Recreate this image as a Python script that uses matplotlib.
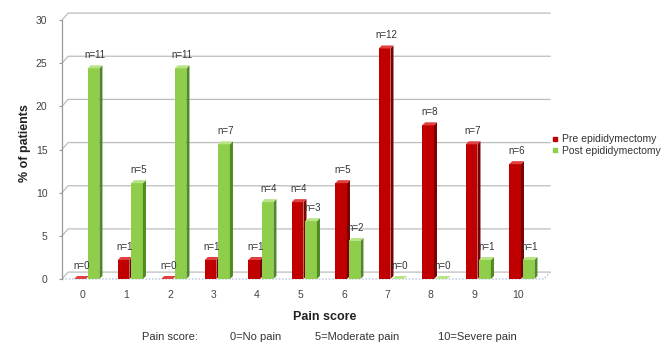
"""
Pain score distribution before / after epididymectomy, Excel-style
pseudo-3D clustered bars with n= labels over every bar.

Output: out.png (662x353)
"""
import numpy as np
import matplotlib
matplotlib.use('Agg')
import matplotlib.pyplot as plt
from matplotlib.patches import Polygon, Rectangle
from matplotlib.lines import Line2D

plt.rcParams.update({
    "font.family": ["Liberation Sans", "DejaVu Sans"],
    "font.size": 7.5,
    "xtick.labelsize": 7.5, "ytick.labelsize": 7.5,
})

# ---- data (% of patients, n per bar) ----
pain_score = list(range(11))
pre_n = [0, 1, 0, 1, 1, 4, 5, 12, 8, 7, 6]
post_n = [11, 5, 11, 7, 4, 3, 2, 0, 0, 1, 1]
pre_pct = [0.0, 2.2, 0.0, 2.2, 2.2, 8.9, 11.1, 26.7, 17.8, 15.6, 13.3]
post_pct = [24.4, 11.1, 24.4, 15.6, 8.9, 6.7, 4.4, 0.0, 0.0, 2.2, 2.2]
y_ticks = [0, 5, 10, 15, 20, 25, 30]
scale_notes = ["Pain score:", "0=No pain", "5=Moderate pain", "10=Severe pain"]

W, H = 662, 353
XMIN, XMAX = -0.48, 10.6
YMIN, YMAX = 0, 30
WALL_DX, WALL_DY = 0.14, 0.8      # back wall depth (data units)
BAR_DX, BAR_DY = 0.07, 0.35       # bar depth
BAR_W = 0.27


def px(x, y):
    return x / W, 1 - y / H


def bar3d(ax, left, h, front, side, top):
    r = left + BAR_W
    ax.add_patch(Rectangle((left, 0), BAR_W, h, facecolor=front, edgecolor="none", zorder=4))
    ax.add_patch(Polygon([(r, 0), (r + BAR_DX, BAR_DY), (r + BAR_DX, h + BAR_DY), (r, h)],
                         closed=True, facecolor=side, edgecolor="none", zorder=4))
    ax.add_patch(Polygon([(left, h), (left + BAR_DX, h + BAR_DY), (r + BAR_DX, h + BAR_DY), (r, h)],
                         closed=True, facecolor=top, edgecolor="none", zorder=4))


def main():
    fig = plt.figure(figsize=(W / 100, H / 100), dpi=100)
    ax = fig.add_axes([62 / W, 1 - 279 / H, 482 / W, 259 / H])
    ax.set_xlim(XMIN, XMAX)
    ax.set_ylim(YMIN, YMAX)

    # back wall gridlines with the little depth slant at the left
    for y in y_ticks:
        ax.plot([XMIN, XMIN + WALL_DX, XMAX + WALL_DX], [y, y + WALL_DY, y + WALL_DY],
                color="#bdbdbd", lw=0.9, zorder=1, clip_on=False)
    # floor
    ax.plot([XMIN, XMAX, XMAX + WALL_DX], [0, 0, WALL_DY],
            color="#a9bcd6", lw=0.8, ls=(0, (1.5, 1.5)), zorder=2, clip_on=False)

    series = {
        "Pre epididymectomy":  {"pct": pre_pct,  "n": pre_n,  "off": -0.2,
                                "front": "#c00000", "side": "#7a0000", "top": "#e04040"},
        "Post epididymectomy": {"pct": post_pct, "n": post_n, "off": 0.11,
                                "front": "#8fce4a", "side": "#4f8a22", "top": "#b8e486"},
    }
    x = np.array(pain_score, dtype=float)
    for name, cfg in series.items():
        for xi, v, n in zip(x, cfg["pct"], cfg["n"]):
            left = xi + cfg["off"]
            bar3d(ax, left, v, cfg["front"], cfg["side"], cfg["top"])
            ax.annotate(f"n={n}", (left + (BAR_W + BAR_DX) / 2, v + BAR_DY),
                        xytext=(0, 7.5), textcoords="offset points",
                        ha="center", va="center", fontsize=7, color="#333333",
                        zorder=6, annotation_clip=False)

    ax.set_xticks(x)
    ax.set_xticklabels([str(p) for p in pain_score])
    ax.set_yticks(y_ticks)
    ax.tick_params(axis="x", length=0, pad=8, colors="#444444")
    ax.tick_params(axis="y", length=2.5, pad=8, colors="#444444", color="#999999")
    for s in ("top", "right", "bottom"):
        ax.spines[s].set_visible(False)
    ax.spines["left"].set_color("#999999")
    ax.spines["left"].set_linewidth(0.9)
    ax.patch.set_visible(False)

    fig.text(*px(325, 317), "Pain score", ha="center", va="center",
             fontsize=9, fontweight="bold", color="#222222")
    fig.text(*px(25, 143), "% of patients", ha="center", va="center", rotation=90,
             fontsize=9, fontweight="bold", color="#222222")

    note_x = [142, 230, 315, 438]
    for xs, s in zip(note_x, scale_notes):
        fig.text(*px(xs, 337), s, ha="left", va="center", fontsize=8, color="#333333")

    handles = [Line2D([], [], ls="none", marker="s", ms=3, color=cfg["front"])
               for cfg in series.values()]
    fig.legend(handles, list(series.keys()), loc="center left",
               bbox_to_anchor=px(547, 145), frameon=False, fontsize=7.5,
               handlelength=0.6, handletextpad=0.3, labelspacing=0.15,
               borderpad=0, labelcolor="#333333")

    fig.savefig("out.png", dpi=100)
    plt.close(fig)


if __name__ == "__main__":
    main()
